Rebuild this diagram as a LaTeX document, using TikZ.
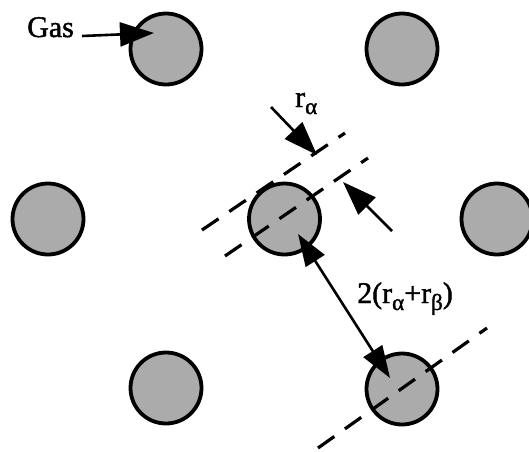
\documentclass[tikz,border=0pt]{standalone}
\usepackage{fontspec}
\setmainfont[FakeBold=1.5]{Liberation Serif}
\usetikzlibrary{arrows.meta}
\newcommand{\mysub}[1]{{\fontsize{23}{23}\selectfont\raisebox{-7pt}{#1}}}
\tikzset{
  atom/.style={circle, draw=black, line width=3.8pt, fill=black!33, minimum size=71pt, inner sep=0pt},
  guide/.style={line width=3.2pt, dash pattern=on 20pt off 13pt},
  pointer/.style={line width=2.6pt, arrows={-Triangle[length=34pt,width=24pt]}},
  dim/.style={line width=2.6pt, arrows={Triangle[length=32pt,width=22pt]-Triangle[length=32pt,width=22pt]}}
}
\tikzset{lbl/.style={font=\fontsize{30}{30}\selectfont, inner sep=0pt, anchor=base west}}
\begin{document}
\begin{tikzpicture}[x=1pt,y=-1pt]
\useasboundingbox (0,0) rectangle (529,451);
\begin{scope}
\clip (0,0) rectangle (529,451);
\node[atom] (a1) at (166,49) {};
\node[atom] (a2) at (402,49) {};
\node[atom] (a3) at (48,219) {};
\node[atom] (a4) at (284.5,219) {};
\node[atom] (a5) at (497,219) {};
\node[atom] (a6) at (166,388) {};
\node[atom] (a7) at (402,389) {};
\end{scope}
% dashed guide lines
\coordinate (u1) at (202,230);
\coordinate (u2) at (345,133);
\coordinate (l1) at (225,256);
\coordinate (l2) at (368,158);
\coordinate (b1) at (318,448);
\coordinate (b2) at (487,328);
\draw[guide] (u1) -- (u2);
\draw[guide] (l1) -- (l2);
\draw[guide] (b1) -- (b2);
% labels
\node[lbl] (gas) at (27,37) {Gas};
\node[lbl] (ra) at (295,107) {r\mysub{α}};
\node[lbl] (dist) at (357,303) {2(r\mysub{α}+r\mysub{β})};
% arrows
\coordinate (gt) at (82,36);
\coordinate (gh) at (154,33);
\draw[pointer] (gt) -- (gh);
\coordinate (r1t) at (271,107);
\coordinate (r1h) at (317,155);
\draw[pointer] (r1t) -- (r1h);
\coordinate (r2t) at (392,231);
\coordinate (r2h) at (343,182);
\draw[pointer] (r2t) -- (r2h);
\coordinate (d1) at (298,234);
\coordinate (d2) at (390,378);
\draw[dim] (d1) -- (d2);
\end{tikzpicture}
\end{document}
